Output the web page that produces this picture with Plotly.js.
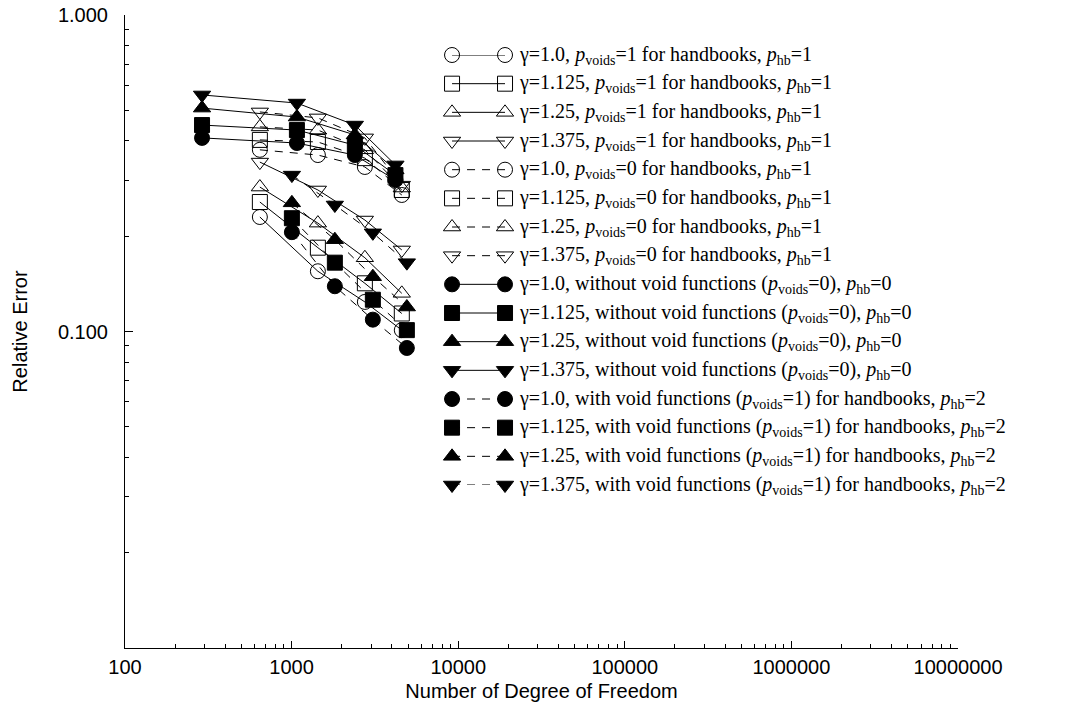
<!DOCTYPE html>
<html><head><meta charset="utf-8">
<script src="https://cdn.plot.ly/plotly-3.0.1.min.js"></script>
<style>html,body{margin:0;padding:0;background:#fff}</style>
</head><body><div id="chart" style="width:1070px;height:713px"></div>
<script>
// ---- data ----
const gammaLabels = ['1.0', '1.125', '1.25', '1.375'];
const dofHb0 = [290, 1076, 2397, 4200];
const dofHb1 = [645, 1438, 2753, 4587];
const dofHb2 = [1004, 1818, 3074, 4918];

// p_voids=1 for handbooks, p_hb=1 (open markers, solid line)
const errPv1Hb1_g1000 = [0.230, 0.155, 0.124, 0.101];
const errPv1Hb1_g1125 = [0.2565, 0.184, 0.142, 0.114];
const errPv1Hb1_g1250 = [0.286, 0.220, 0.171, 0.132];
const errPv1Hb1_g1375 = [0.343, 0.280, 0.225, 0.181];
// p_voids=0 for handbooks, p_hb=1 (open markers, dashed line)
const errPv0Hb1_g1000 = [0.375, 0.361, 0.331, 0.270];
const errPv0Hb1_g1125 = [0.403, 0.397, 0.353, 0.280];
const errPv0Hb1_g1250 = [0.443, 0.433, 0.375, 0.284];
const errPv0Hb1_g1375 = [0.494, 0.473, 0.409, 0.290];
// without void functions, p_hb=0 (filled markers, solid line)
const errHb0_g1000 = [0.409, 0.394, 0.361, 0.301];
const errHb0_g1125 = [0.449, 0.433, 0.388, 0.312];
const errHb0_g1250 = [0.508, 0.476, 0.418, 0.324];
const errHb0_g1375 = [0.559, 0.527, 0.449, 0.336];
// with void functions (p_voids=1) for handbooks, p_hb=2 (filled markers, dashed line)
const errHb2_g1000 = [0.206, 0.139, 0.109, 0.0887];
const errHb2_g1125 = [0.228, 0.165, 0.126, 0.101];
const errHb2_g1250 = [0.255, 0.195, 0.149, 0.1195];
const errHb2_g1375 = [0.312, 0.251, 0.205, 0.165];

const xTickVals = [100, 1000, 10000, 100000, 1000000, 10000000];
const xTickText = ['100', '1000', '10000', '100000', '1000000', '10000000'];
const yTickVals = [0.1, 1];
const yTickText = ['0.100', '1.000'];

// ---- styling ----
const openSyms = ['circle-open', 'square-open', 'triangle-up-open', 'triangle-down-open'];
const fillSyms = ['circle', 'square', 'triangle-up', 'triangle-down'];
const DASH = '8px,7px';

const groups = [
  {dof: dofHb1, errs: [errPv1Hb1_g1000, errPv1Hb1_g1125, errPv1Hb1_g1250, errPv1Hb1_g1375], syms: openSyms, dash: 'solid',
   label: g => `γ=${g}, <i>p</i><sub>voids</sub>=1 for handbooks, <i>p</i><sub>hb</sub>=1`},
  {dof: dofHb1, errs: [errPv0Hb1_g1000, errPv0Hb1_g1125, errPv0Hb1_g1250, errPv0Hb1_g1375], syms: openSyms, dash: DASH,
   label: g => `γ=${g}, <i>p</i><sub>voids</sub>=0 for handbooks, <i>p</i><sub>hb</sub>=1`},
  {dof: dofHb0, errs: [errHb0_g1000, errHb0_g1125, errHb0_g1250, errHb0_g1375], syms: fillSyms, dash: 'solid',
   label: g => `γ=${g}, without void functions (<i>p</i><sub>voids</sub>=0), <i>p</i><sub>hb</sub>=0`},
  {dof: dofHb2, errs: [errHb2_g1000, errHb2_g1125, errHb2_g1250, errHb2_g1375], syms: fillSyms, dash: DASH,
   label: g => `γ=${g}, with void functions (<i>p</i><sub>voids</sub>=1) for handbooks, <i>p</i><sub>hb</sub>=2`}
];

const traces = [];
const annotations = [];
let row = 0;
groups.forEach(gr => {
  gr.errs.forEach((err, k) => {
    const style = {
      mode: 'lines+markers',
      line: {color: '#000', width: 1, dash: gr.dash},
      marker: {symbol: gr.syms[k], size: 15, color: '#000', line: {color: '#000', width: 1}},
      showlegend: false, hoverinfo: 'skip', cliponaxis: false
    };
    traces.push(Object.assign({x: gr.dof, y: err, xaxis: 'x', yaxis: 'y'}, style));
    // legend sample row
    traces.push(Object.assign({x: [0, 1], y: [row, row], xaxis: 'x2', yaxis: 'y2'}, style));
    annotations.push({
      text: gr.label(gammaLabels[k]), xref: 'paper', yref: 'y2', x: 0.4700, y: row,
      xanchor: 'left', yanchor: 'middle', showarrow: false,
      font: {family: 'Liberation Serif, Times New Roman, serif', size: 20, color: '#000'}
    });
    row++;
  });
});

const xMinor = [];
for (let d = 100; d < 1e7; d *= 10) for (let m = 2; m <= 9; m++) xMinor.push(d * m);
const yMinor = [];
for (let d = 0.01; d < 1; d *= 10) for (let m = 2; m <= 9; m++) yMinor.push(d * m);

const axisFont = {family: 'Liberation Sans, Arial, sans-serif', size: 20, color: '#000'};

const layout = {
  width: 1070, height: 713,
  margin: {l: 125, r: 112, t: 15, b: 65},
  paper_bgcolor: '#fff', plot_bgcolor: '#fff',
  showlegend: false,
  xaxis: {
    type: 'log', range: [2, 7], tickmode: 'array', tickvals: xTickVals, ticktext: xTickText,
    ticks: 'inside', ticklen: 7, tickcolor: '#000', tickwidth: 1,
    showline: true, linecolor: '#000', linewidth: 1, showgrid: false, zeroline: false,
    minor: {tickmode: 'array', tickvals: xMinor, ticks: 'inside', ticklen: 4, tickcolor: '#000', showgrid: false},
    tickfont: axisFont, ticklabelstandoff: 1, automargin: false,
    title: {text: 'Number of Degree of Freedom', font: axisFont, standoff: 6}
  },
  yaxis: {
    type: 'log', range: [-2, 0], tickmode: 'array', tickvals: yTickVals, ticktext: yTickText,
    ticks: 'inside', ticklen: 8, tickcolor: '#000', tickwidth: 1,
    showline: true, linecolor: '#000', linewidth: 1, showgrid: false, zeroline: false,
    minor: {tickmode: 'array', tickvals: yMinor, ticks: 'inside', ticklen: 4, tickcolor: '#000', showgrid: false},
    tickfont: axisFont, ticklabelstandoff: 12, automargin: false,
    title: {text: 'Relative Error', font: axisFont, standoff: 24}
  },
  xaxis2: {domain: [0.3926, 0.4562], range: [0, 1], visible: false, anchor: 'y2', fixedrange: true},
  yaxis2: {domain: [0.2575, 0.9368], range: [15, 0], visible: false, anchor: 'x2', fixedrange: true},
  annotations: annotations
};

Plotly.newPlot('chart', traces, layout, {displayModeBar: false, staticPlot: true});
</script>
</body></html>
